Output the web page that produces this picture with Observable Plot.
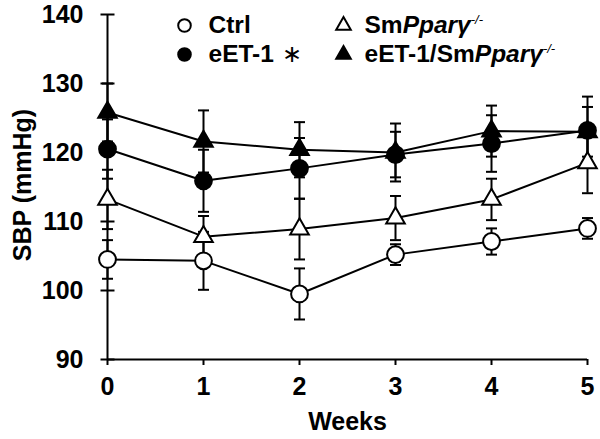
<!DOCTYPE html>
<html>
<head>
<meta charset="utf-8">
<script src="https://cdn.jsdelivr.net/npm/d3@7"></script>
<script src="https://cdn.jsdelivr.net/npm/@observablehq/plot@0.6"></script>
<style>
  html, body { margin: 0; padding: 0; background: #fff; }
  #chart svg { display: block; }
</style>
</head>
<body>
<div id="chart"></div>
<script>
// ---- data ----
const weeks = [0, 1, 2, 3, 4, 5];
const xTicks = [0, 1, 2, 3, 4, 5];
const yTicks = [90, 100, 110, 120, 130, 140];

const seriesNames = ["Ctrl", "eET-1", "SmPparγ-/-", "eET-1/SmPparγ-/-"];
const ctrlMean = [104.5, 104.3, 99.5, 105.2, 107.1, 109.0];
const ctrlSem = [2.8, 4.2, 3.7, 1.5, 1.9, 1.5];
const eet1Mean = [120.5, 115.9, 117.7, 119.7, 121.3, 123.2];
const eet1Sem = [4.3, 4.5, 4.4, 3.3, 4.1, 4.9];
const smMean = [113.2, 107.8, 108.9, 110.5, 113.2, 118.5];
const smSem = [4.3, 3.0, 4.4, 3.2, 3.0, 4.4];
const eetSmMean = [125.8, 121.6, 120.4, 120.0, 123.1, 123.0];
const eetSmSem = [4.2, 4.5, 4.0, 4.2, 3.7, 3.6];

// ---- styles ----
const FONT = "'Liberation Sans', Arial, Helvetica, sans-serif";
const AXIS_FONT = 25;
const LEGEND_FONT = 24.5;
const seriesStyle = [
  {symbol: "circle", fill: "white", r: 8.4},
  {symbol: "circle", fill: "black", r: 8.4},
  {symbol: "triangle", fill: "white", r: 6.9},
  {symbol: "triangle", fill: "black", r: 6.9}
];
const legendStyle = [
  {col: 0, row: 0, r: 6.3},
  {col: 0, row: 1, r: 6.3},
  {col: 1, row: 0, r: 5.4},
  {col: 1, row: 1, r: 5.4}
];

const means = [ctrlMean, eet1Mean, smMean, eetSmMean];
const sems = [ctrlSem, eet1Sem, smSem, eetSmSem];
const rows = seriesNames.flatMap((name, i) =>
  weeks.map((w, j) => ({series: name, week: w, mean: means[i][j], sem: sems[i][j]}))
);

// horizontal cap symbol
const capSymbol = {
  draw(context, size) {
    const r = Math.sqrt(size / Math.PI);
    context.moveTo(-r, 0);
    context.lineTo(r, 0);
  }
};

const marks = [];
// axes lines
marks.push(Plot.ruleX([0], {y1: 90, y2: 140, stroke: "black", strokeWidth: 2}));
marks.push(Plot.ruleY([90], {x1: 0, x2: 5, stroke: "black", strokeWidth: 2}));
// crossing y ticks
marks.push(Plot.dot(yTicks, {y: d => d, frameAnchor: "left", symbol: capSymbol, r: 7, stroke: "black", strokeWidth: 2}));
marks.push(Plot.axisY({ticks: yTicks, tickSize: 0, tickPadding: 24, fontSize: AXIS_FONT, fontWeight: "bold", label: null, tickFormat: d => String(d)}));
marks.push(Plot.axisX({ticks: xTicks, tickSize: 6, tickPadding: 12, fontSize: AXIS_FONT, fontWeight: "bold", label: null, strokeWidth: 2, tickFormat: d => String(d)}));

// error bars
marks.push(Plot.ruleX(rows, {x: "week", y1: d => d.mean - d.sem, y2: d => d.mean + d.sem, stroke: "black", strokeWidth: 2}));
marks.push(Plot.dot(rows, {x: "week", y: d => d.mean + d.sem, symbol: capSymbol, r: 5.5, stroke: "black", strokeWidth: 2}));
marks.push(Plot.dot(rows, {x: "week", y: d => d.mean - d.sem, symbol: capSymbol, r: 5.5, stroke: "black", strokeWidth: 2}));

// lines
marks.push(Plot.line(rows, {x: "week", y: "mean", z: "series", stroke: "black", strokeWidth: 2}));

// markers
const order = [0, 2, 3, 1];
for (const i of order) {
  const s = seriesStyle[i];
  marks.push(Plot.dot(rows.filter(d => d.series === seriesNames[i]), {
    x: "week", y: "mean", symbol: s.symbol, r: s.r, fill: s.fill, stroke: "black", strokeWidth: 2
  }));
}

// legend
seriesNames.forEach((name, i) => {
  const s = seriesStyle[i], L = legendStyle[i];
  const dx = 77 + L.col * 159, dy = 11 + L.row * 29;
  marks.push(Plot.dot([name], {frameAnchor: "top-left", dx, dy, symbol: s.symbol, r: L.r, fill: s.fill, stroke: "black", strokeWidth: 2}));
  marks.push(Plot.text([name], {text: d => d, frameAnchor: "top-left", dx: dx + 24 - (L.col ? 3 : 0), dy, textAnchor: "start", lineAnchor: "middle", fontSize: LEGEND_FONT, fontWeight: "bold", fill: "black"}));
});

// axis titles
marks.push(Plot.text(["Weeks"], {text: d => d, frameAnchor: "bottom", dy: 62, fontSize: AXIS_FONT, fontWeight: "bold", textAnchor: "middle", lineAnchor: "middle"}));
marks.push(Plot.text(["SBP (mmHg)"], {text: d => d, frameAnchor: "left", dx: -85, dy: -2, rotate: -90, fontSize: AXIS_FONT, fontWeight: "bold", textAnchor: "middle", lineAnchor: "middle"}));

const chart = Plot.plot({
  width: 600,
  height: 439,
  marginLeft: 107,
  marginRight: 13,
  marginTop: 14,
  marginBottom: 80,
  x: {domain: [0, 5]},
  y: {domain: [90, 140]},
  style: {fontFamily: FONT, color: "black", background: "white", overflow: "visible"},
  marks
});

// make sure axis tick labels use the intended size
d3.select(chart).selectAll('g[aria-label$="tick label"]')
  .attr("font-size", AXIS_FONT).attr("font-weight", "bold")
  .style("font-size", AXIS_FONT + "px");

// rich text for the legend labels (italic gene name, superscript genotype, asterisk)
d3.select(chart).selectAll("text").each(function () {
  const t = this.textContent;
  const el = d3.select(this);
  if (t.includes("Pparγ")) {
    const pre = t.slice(0, t.indexOf("Pparγ"));
    el.text(null);
    el.append("tspan").text(pre);
    el.append("tspan").attr("font-style", "italic").text("Pparγ");
    el.append("tspan").attr("font-size", 13).attr("font-weight", "normal").attr("font-style", "italic").attr("dy", -9).text("-/-");
  } else if (t === "eET-1") {
    el.append("tspan").attr("font-weight", "normal").attr("font-size", 24).attr("dx", 8).attr("font-family", "'DejaVu Sans', sans-serif").text("∗");
  }
});

document.getElementById("chart").appendChild(chart);
</script>
</body>
</html>
